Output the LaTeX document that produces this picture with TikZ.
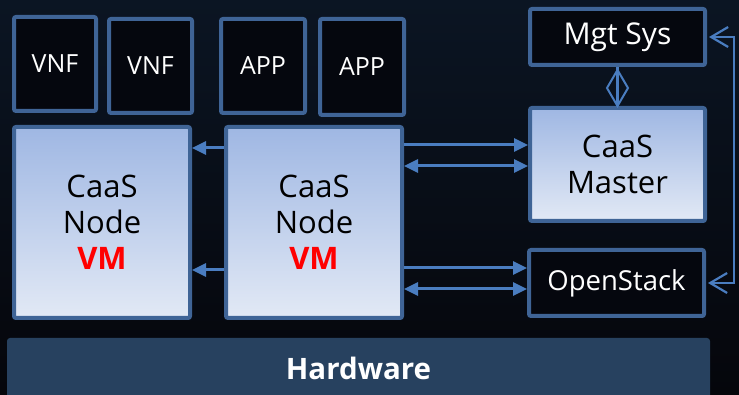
\documentclass[tikz,border=0pt]{standalone}
\usepackage{fontspec}
\setmainfont{Open Sans}
\usetikzlibrary{arrows.meta,calc}
\definecolor{bgtop}{HTML}{0B1523}
\definecolor{bgbot}{HTML}{05060B}
\definecolor{bord}{HTML}{3F6496}
\definecolor{arr}{HTML}{4A7DC0}
\definecolor{darkfill}{HTML}{05070E}
\definecolor{ltop}{HTML}{9FB7E3}
\definecolor{lbot}{HTML}{E2E9F5}
\definecolor{hwfill}{HTML}{27415F}
\definecolor{vmred}{HTML}{FF0000}
\begin{document}
\begin{tikzpicture}[x=1pt,y=-1pt,
 darkbox/.style={draw=bord, line width=4pt, fill=darkfill, rounded corners=2pt, inner sep=0pt, text=white, align=center},
 lightbox/.style={draw=bord, line width=4pt, top color=ltop, bottom color=lbot, rounded corners=2pt, inner sep=0pt, text=black, align=center},
 conn/.style={draw=arr, line width=3pt},
 head/.style={-{Triangle[length=14pt,width=13pt]}},
 both/.style={{Triangle[length=14pt,width=13pt]}-{Triangle[length=14pt,width=13pt]}},
 chev/.style={draw=arr, line width=2.2pt, {Straight Barb[length=17pt,width=20pt]}-{Straight Barb[length=17pt,width=20pt]}},
 small/.style={font=\fontsize{25}{30}\selectfont},
 big/.style={font=\fontsize{31}{36}\selectfont},
]
\useasboundingbox (0,0) rectangle (739,395);
\shade[top color=bgtop, bottom color=bgbot] (0,0) rectangle (739,395);

% top boxes
\node[darkbox, small, minimum width=82pt, minimum height=94pt] (vnf1) at (55,64) {VNF};
\node[darkbox, small, minimum width=83pt, minimum height=94pt] (vnf2) at (150.5,66) {VNF};
\node[darkbox, small, minimum width=84pt, minimum height=94pt] (app1) at (263,66) {APP};
\node[darkbox, small, minimum width=84pt, minimum height=96pt] (app2) at (362,67) {APP};

% caas nodes
\node[lightbox, big, minimum width=176pt, minimum height=191pt] (node1) at (102,222.5) {CaaS\\Node\\{\bfseries\color{vmred}VM}};
\node[lightbox, big, minimum width=176pt, minimum height=191pt] (node2) at (314,222.5) {CaaS\\Node\\{\bfseries\color{vmred}VM}};

% right column
\node[darkbox, font=\fontsize{30}{36}\selectfont, minimum width=175pt, minimum height=56pt] (mgt) at (617.5,37) {Mgt Sys};
\node[lightbox, big, minimum width=175pt, minimum height=113pt] (master) at (617.5,164.5) {CaaS\\Master};
\node[darkbox, font=\fontsize{27.5}{33}\selectfont, minimum width=175pt, minimum height=66pt] (os) at (616.5,283) {OpenStack};

% hardware
\node[fill=hwfill, rounded corners=3pt, inner sep=0pt, text=white, font=\fontsize{29.5}{36}\selectfont\bfseries, minimum width=703pt, minimum height=60pt] (hw) at (358.5,368) {Hardware};

% node2 -> node1
\draw[conn,head] ([yshift=74.5pt]node2.west) -- ([yshift=74.5pt]node1.east);
\draw[conn,head] ([yshift=-47.5pt]node2.west) -- ([yshift=-47.5pt]node1.east);

% node2 -> master
\coordinate (a1) at ([yshift=77.5pt]node2.east);
\coordinate (a2) at ([yshift=56.5pt]node2.east);
\draw[conn,head] (a1) -- (master.west |- a1);
\draw[conn,both] (a2) -- (master.west |- a2);

% node2 -> openstack
\coordinate (b1) at ([yshift=-45.5pt]node2.east);
\coordinate (b2) at ([yshift=-66.5pt]node2.east);
\draw[conn,head] (b1) -- (os.west |- b1);
\draw[conn,both] (b2) -- (os.west |- b2);

% mgt <-> master
\draw[conn] (mgt.south) -- (master.north);
\draw[draw=arr, line width=2pt, line join=miter] ([yshift=-3pt]mgt.south) -- ++(10.5,18) -- ++(-10.5,18) -- ++(-10.5,-18) -- cycle;

% mgt <-> openstack on the right
\draw[chev] ([xshift=2pt]mgt.east) -- ++(25,0) |- ([xshift=2pt]os.east);
\end{tikzpicture}
\end{document}
